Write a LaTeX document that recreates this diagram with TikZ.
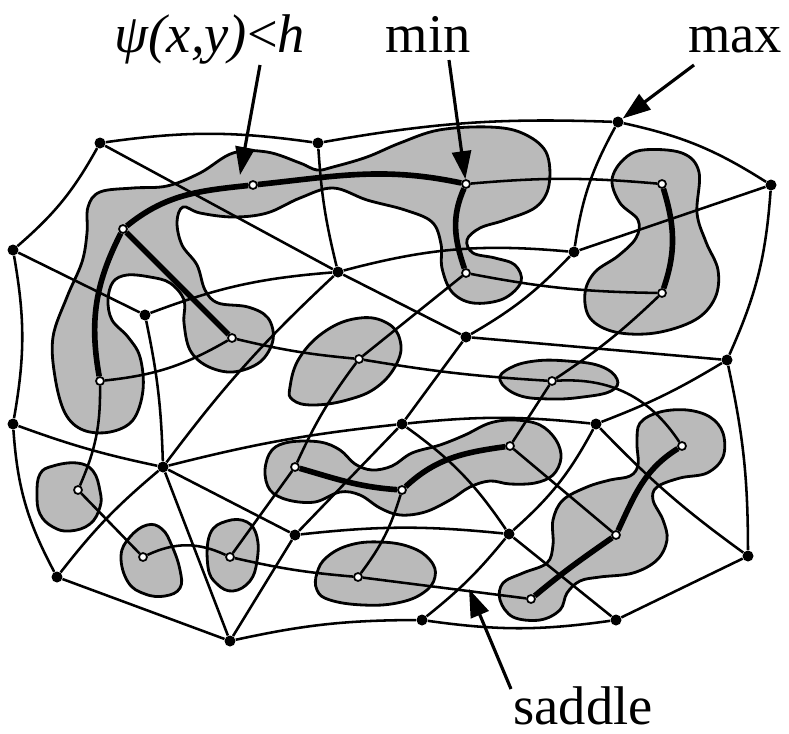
\documentclass[tikz,border=0pt]{standalone}
\usepackage{fontspec}
\setmainfont{Liberation Serif}
\usetikzlibrary{arrows.meta}

\begin{document}
\begin{tikzpicture}[x=0.02cm,y=-0.02cm,
  grid/.style={line width=1.45pt},
  ridge/.style={line width=3.2pt},
  blob/.style={draw,line width=1.6pt,fill=black!27},
  maxdot/.style={circle,fill=black,inner sep=0pt,minimum size=2.2mm},
  mindot/.style={circle,draw,fill=white,line width=1pt,inner sep=0pt,minimum size=1.6mm},
  lbl/.style={font=\fontsize{31}{36}\selectfont,anchor=base,inner sep=0pt},
  pointer/.style={line width=1.8pt,-{Triangle[length=5.6mm,width=3.8mm]}}]
  \useasboundingbox (0,0) rectangle (789,734);

  % shaded regions psi(x,y) < h
  \draw[blob] plot[smooth cycle,tension=0.6] coordinates {
    (100,192) (133,188) (167,186) (200,173) (233,153) (267,152) (300,163)
    (317,170) (333,167) (367,157) (400,143) (439,130) (489,127) (522,133)
    (546,152) (549,185) (536,207) (505,220) (480,228) (467,240) (473,253)
    (495,258) (515,265) (521,282) (503,299) (473,303) (452,292) (442,268)
    (441,244) (432,222) (405,210) (367,200) (333,188) (300,198) (267,213)
    (233,217) (200,213) (183,207) (177,222) (182,245) (197,265) (205,290)
    (218,303) (248,307) (268,318) (273,340) (260,362) (233,372) (207,366)
    (190,350) (184,323) (184,300) (170,283) (150,277) (127,275) (113,282)
    (108,300) (112,320) (128,337) (140,357) (143,390) (133,420) (110,432)
    (83,430) (65,413) (55,377) (53,337) (67,297) (82,262) (87,233) (88,207)};
  \draw[blob] plot[smooth cycle,tension=0.6] coordinates {
    (612,180) (623,160) (643,150) (682,153) (699,172) (697,213) (706,242)
    (718,270) (715,298) (695,320) (655,333) (615,332) (590,318) (585,293)
    (595,272) (618,256) (636,238) (638,220) (620,203)};
  \draw[blob] plot[smooth cycle,tension=0.7] coordinates {
    (290,387) (300,357) (327,330) (360,318) (387,323) (400,340) (397,363)
    (377,387) (347,400) (313,405) (293,400)};
  \draw[blob] plot[smooth cycle,tension=0.7] coordinates {
    (500,380) (510,368) (535,361) (567,361) (600,366) (617,379) (611,391)
    (583,397) (550,399) (518,395)};
  \draw[blob] plot[smooth cycle,tension=0.6] coordinates {
    (265,470) (272,450) (290,442) (320,442) (340,450) (355,464) (372,470)
    (392,466) (412,453) (440,445) (465,435) (490,423) (515,420) (540,425)
    (556,440) (561,458) (553,475) (535,483) (510,484) (490,481) (470,487)
    (450,500) (425,512) (400,515) (380,508) (360,495) (340,492) (315,502)
    (288,500) (270,490)};
  \draw[blob] plot[smooth cycle,tension=0.6] coordinates {
    (640,423) (660,412) (687,410) (710,417) (723,433) (723,457) (707,473)
    (680,478) (657,487) (653,500) (663,520) (667,540) (657,560) (633,573)
    (600,577) (580,581) (567,593) (560,610) (540,620) (513,617) (500,600)
    (503,583) (523,573) (547,563) (553,545) (553,520) (563,500) (587,487)
    (610,480) (630,476) (638,465) (637,443)};
  \draw[blob] plot[smooth cycle,tension=0.7] coordinates {
    (317,573) (327,557) (350,545) (380,542) (410,547) (430,560) (435,577)
    (423,593) (397,603) (363,605) (330,600) (317,590)};
  \draw[blob] plot[smooth cycle,tension=0.7] coordinates {
    (40,474) (53,466) (77,463) (93,471) (100,491) (100,507) (90,524)
    (70,531) (53,527) (40,514) (37,494)};
  \draw[blob] plot[smooth cycle,tension=0.7] coordinates {
    (121,556) (130,537) (147,525) (162,529) (172,546) (180,570) (180,588)
    (165,596) (145,594) (128,582)};
  \draw[blob] plot[smooth cycle,tension=0.7] coordinates {
    (210,534) (227,521) (247,522) (257,537) (257,561) (250,581) (233,591)
    (217,584) (208,567)};

  % maxima
  \node[maxdot] (mx1) at (100,143) {};
  \node[maxdot] (mx2) at (318,143) {};
  \node[maxdot] (mx3) at (618,122) {};
  \node[maxdot] (mx4) at (771,185) {};
  \node[maxdot] (mx5) at (13,250) {};
  \node[maxdot] (mx6) at (145,315) {};
  \node[maxdot] (mx7) at (338,272) {};
  \node[maxdot] (mx8) at (574,252) {};
  \node[maxdot] (mx9) at (466,337) {};
  \node[maxdot] (mx10) at (727,360) {};
  \node[maxdot] (mx11) at (13,424) {};
  \node[maxdot] (mx12) at (163,467) {};
  \node[maxdot] (mx13) at (57,577) {};
  \node[maxdot] (mx14) at (230,641) {};
  \node[maxdot] (mx15) at (295,535) {};
  \node[maxdot] (mx16) at (402,424) {};
  \node[maxdot] (mx17) at (596,424) {};
  \node[maxdot] (mx18) at (509,534) {};
  \node[maxdot] (mx19) at (748,556) {};
  \node[maxdot] (mx20) at (422,620) {};
  \node[maxdot] (mx21) at (616,620) {};

  % minima
  \node[mindot] (mn1) at (253,185) {};
  \node[mindot] (mn2) at (123,229) {};
  \node[mindot] (mn3) at (232,338) {};
  \node[mindot] (mn4) at (359,359) {};
  \node[mindot] (mn5) at (466,184) {};
  \node[mindot] (mn6) at (662,184) {};
  \node[mindot] (mn7) at (466,273) {};
  \node[mindot] (mn8) at (662,293) {};
  \node[mindot] (mn9) at (100,381) {};
  \node[mindot] (mn10) at (78,490) {};
  \node[mindot] (mn11) at (143,557) {};
  \node[mindot] (mn12) at (230,557) {};
  \node[mindot] (mn13) at (358,577) {};
  \node[mindot] (mn14) at (295,467) {};
  \node[mindot] (mn15) at (552,381) {};
  \node[mindot] (mn16) at (510,446) {};
  \node[mindot] (mn17) at (402,490) {};
  \node[mindot] (mn18) at (682,446) {};
  \node[mindot] (mn19) at (616,535) {};
  \node[mindot] (mn20) at (531,599) {};

  % lines between maxima
  \draw[grid]
    (mx1) to[bend left=8] (mx2)
    (mx2) to[bend left=6] (mx3)
    (mx3) to[bend left=10] (mx4)
    (mx4) to[bend left=10] (mx10)
    (mx10) to[bend left=6] (mx19)
    (mx19) -- (mx21)
    (mx21) to[bend left=8] (mx20)
    (mx20) to[bend right=6] (mx14)
    (mx14) -- (mx13)
    (mx13) to[bend left=12] (mx11)
    (mx11) to[bend right=10] (mx5)
    (mx5) to[bend right=10] (mx1)
    (mx1) -- (mx7)
    (mx2) to[bend right=5] (mx7)
    (mx5) -- (mx6)
    (mx6) to[bend left=8] (mx7)
    (mx6) to[bend left=5] (mx12)
    (mx7) to[bend right=5] (mx12)
    (mx7) to[bend left=10] (mx8)
    (mx7) -- (mx9)
    (mx3) to[bend right=10] (mx8)
    (mx8) to[bend left=8] (mx9)
    (mx8) -- (mx4)
    (mx9) -- (mx10)
    (mx9) -- (mx16)
    (mx12) to[bend left=4] (mx16)
    (mx12) to[bend left=4] (mx11)
    (mx12) to[bend right=6] (mx13)
    (mx12) -- (mx14)
    (mx12) -- (mx15)
    (mx15) -- (mx14)
    (mx15) -- (mx16)
    (mx15) to[bend left=6] (mx18)
    (mx16) to[bend left=6] (mx17)
    (mx16) to[bend left=10] (mx18)
    (mx17) to[bend right=5] (mx10)
    (mx17) to[bend left=10] (mx18)
    (mx17) to[bend right=5] (mx19)
    (mx18) -- (mx21)
    (mx18) to[bend left=6] (mx20);

  % lines between minima
  \draw[grid]
    (mn5) to[bend left=5] (mn6)
    (mn7) to[bend right=5] (mn8)
    (mn9) to[bend right=12] (mn3)
    (mn3) to[bend right=4] (mn4)
    (mn4) to[bend right=3] (mn15)
    (mn15) to[bend left=30] (mn18)
    (mn15) -- (mn16)
    (mn8) to[bend left=5] (mn15)
    (mn4) -- (mn7)
    (mn4) to[bend right=6] (mn14)
    (mn9) to[bend left=12] (mn10)
    (mn10) -- (mn11)
    (mn11) to[bend left=25] (mn12)
    (mn12) to[bend right=4] (mn13)
    (mn12) -- (mn14)
    (mn13) to[bend right=10] (mn17)
    (mn13) -- (mn20)
    (mn16) -- (mn19);

  % minima joined inside one region
  \draw[ridge]
    (mn9) to[out=100,in=243] (mn2)
    (mn2) to[out=39,in=186] (mn1)
    (mn1) to[out=6,in=168] (mn5)
    (mn2) -- (mn3)
    (mn5) to[out=246,in=109] (mn7)
    (mn6) to[out=287,in=71] (mn8)
    (mn14) to[out=-16,in=176] (mn17)
    (mn17) to[out=43,in=188] (mn16)
    (mn18) to[out=212,in=65] (mn19)
    (mn19) to[out=215,in=40] (mn20);

  % labels
  \node[lbl] (psilbl) at (210,52) {{\itshape ψ(x,y)}<{\itshape h}};
  \node[lbl] (minlbl) at (428,52) {min};
  \node[lbl] (maxlbl) at (735,52) {max};
  \node[lbl] (sadlbl) at (583,724) {saddle};
  \coordinate (psitail) at (260,65);
  \coordinate (psitip) at (240,175);
  \coordinate (mintail) at (449,60);
  \coordinate (maxtail) at (694,65);
  \coordinate (sadtail) at (511,689);
  \coordinate (sadtip) at (469,589);
  \draw[pointer] (psitail) -- (psitip);
  \draw[pointer] (mintail) -- (mn5);
  \draw[pointer] (maxtail) -- (mx3);
  \draw[pointer] (sadtail) -- (sadtip);
\end{tikzpicture}
\end{document}
